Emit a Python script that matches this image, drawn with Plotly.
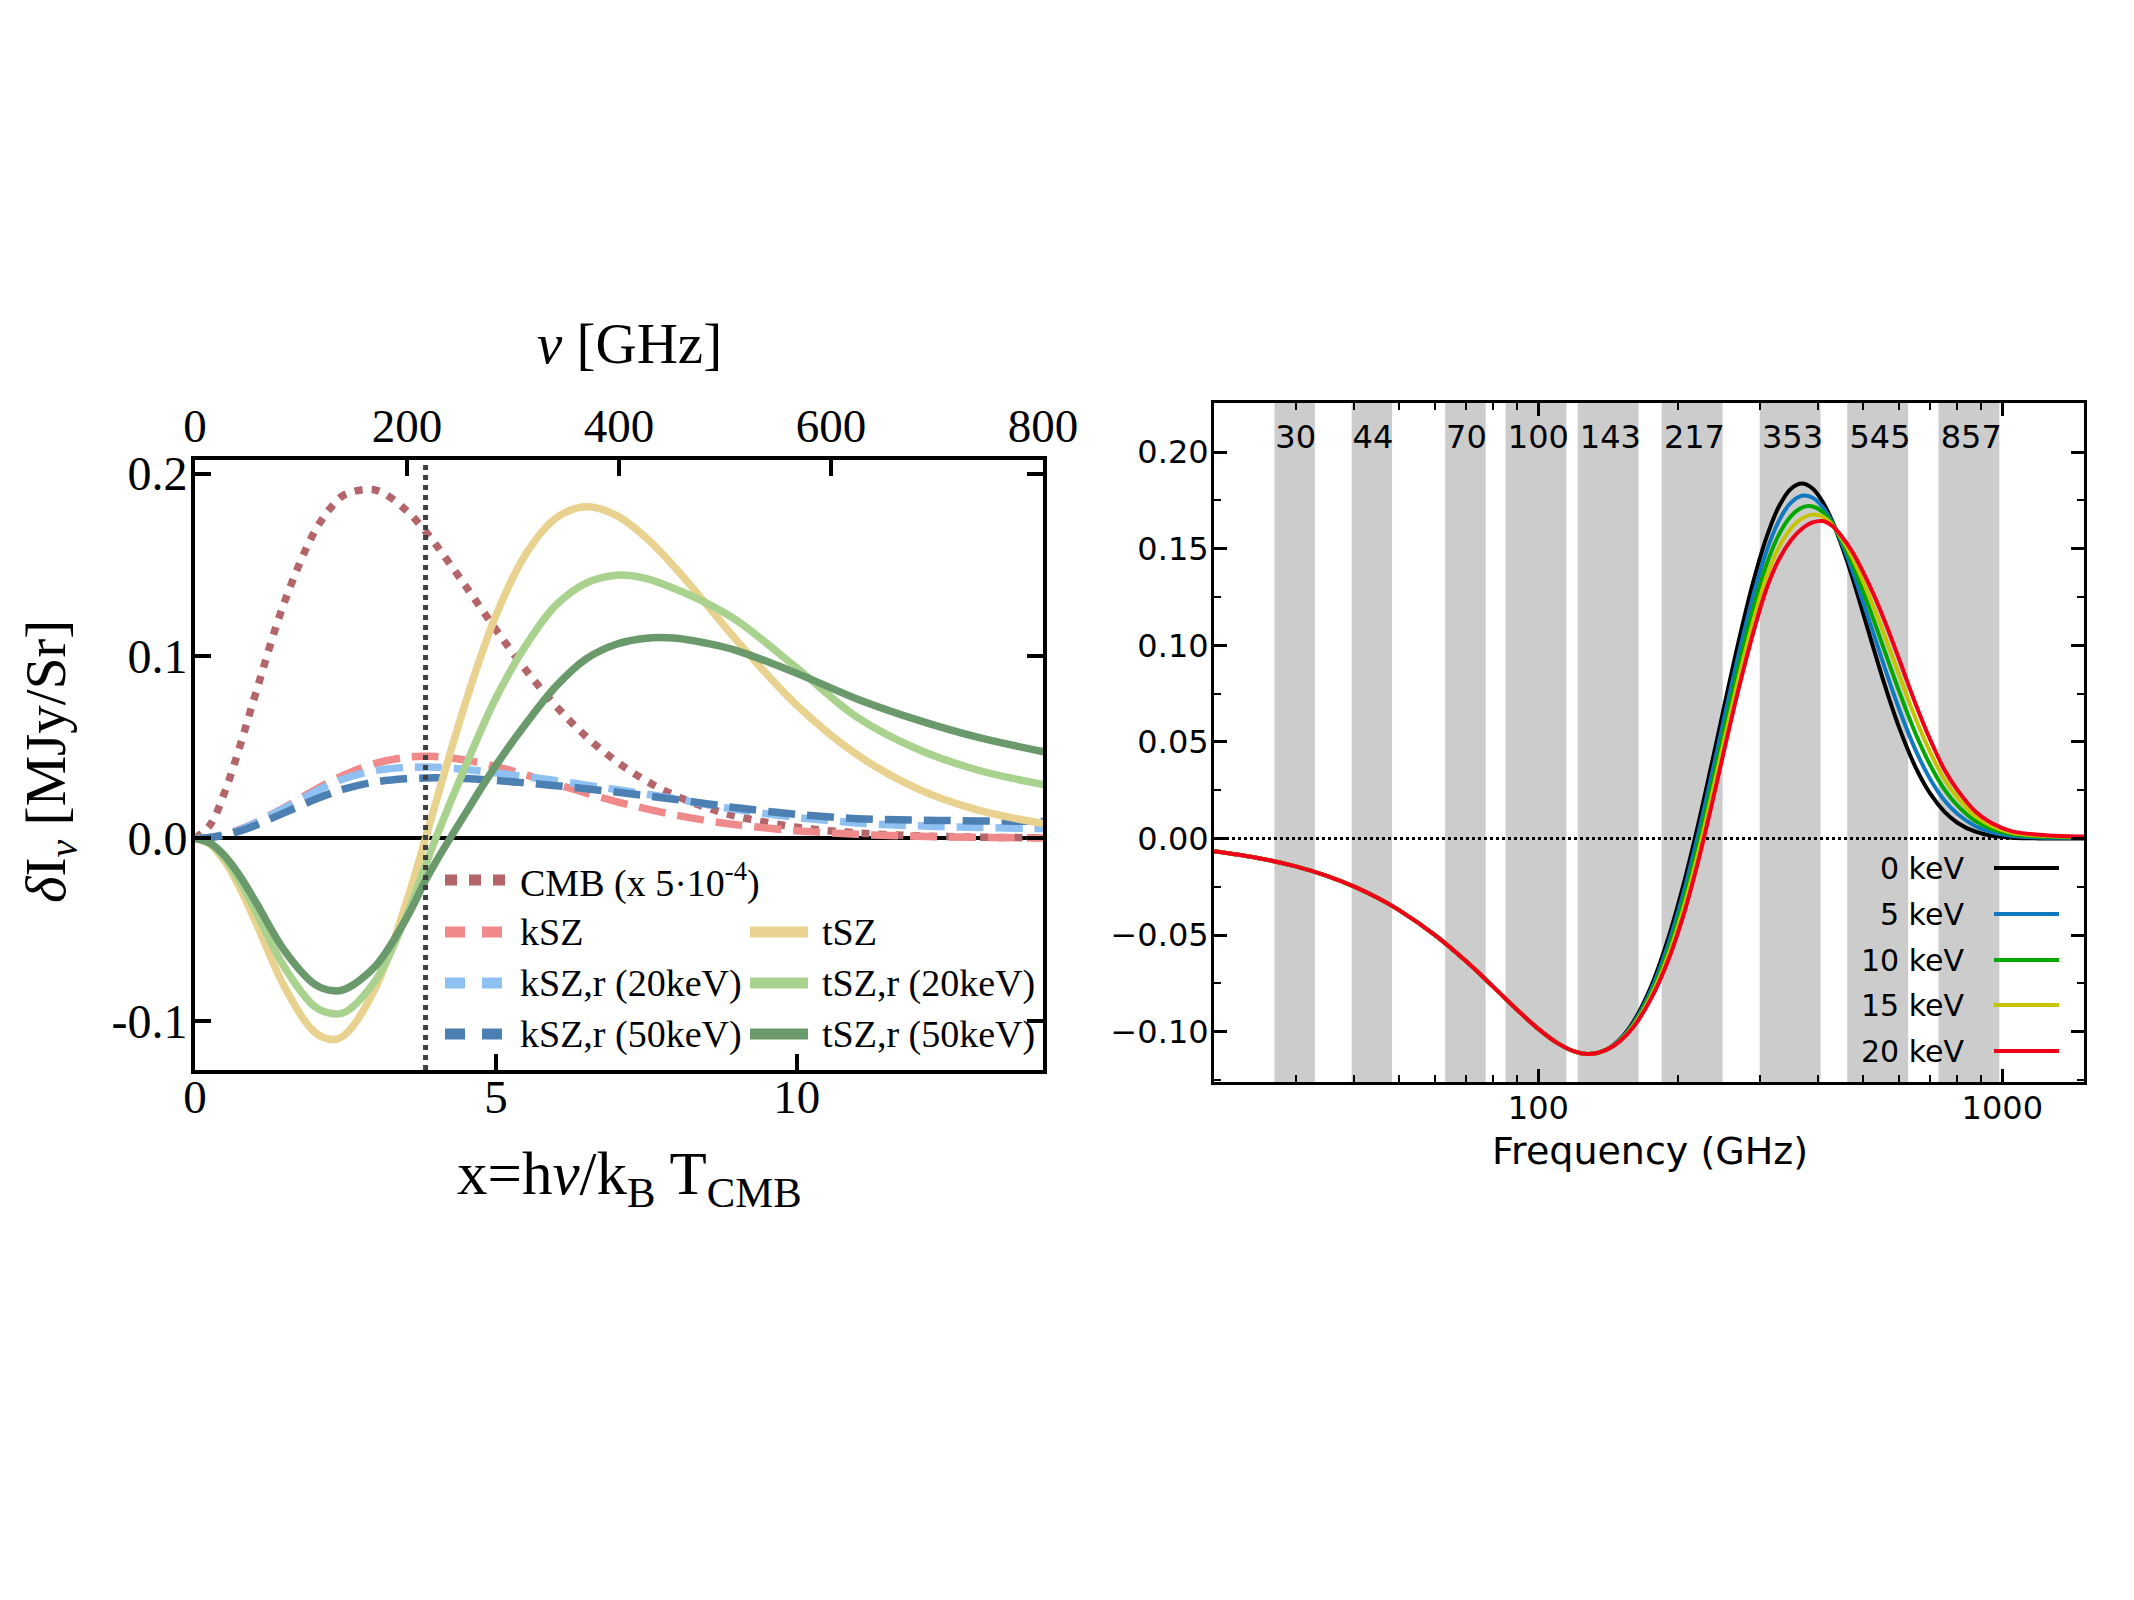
import plotly.graph_objects as go

W, H = 2134, 1600

# ---------------- left panel data ----------------
x_left = [0, 0.25, 0.5, 0.75, 1.0, 1.5, 2.0, 2.3, 2.5, 3.0, 3.5, 3.83, 4.0, 4.5, 5.0,
          5.5, 6.0, 6.5, 7.0, 7.5, 8.0, 8.5, 9.0, 10.0, 11.0, 12.0, 13.0, 14.1]
cmb_scaled = [0, 0.0074, 0.0260, 0.0510, 0.0786, 0.1309, 0.1690, 0.1830, 0.1887, 0.1910,
              0.1802, 0.1683, 0.1612, 0.1382, 0.1145, 0.0922, 0.0725, 0.0558, 0.0423,
              0.0315, 0.0232, 0.0169, 0.0121, 0.0061, 0.0030, 0.0014, 0.0007, 0.0003]
ksz = [0, 0.00057, 0.00226, 0.00495, 0.00849, 0.01726, 0.0267, 0.03195, 0.0351, 0.0412,
       0.0444, 0.0450, 0.0449, 0.0429, 0.0394, 0.0348, 0.0298, 0.0248, 0.0202, 0.0162,
       0.0127, 0.0098, 0.0075, 0.0042, 0.00225, 0.00117, 0.0006, 0.00027]
ksz_r20 = [0, 0.00056, 0.0022, 0.0048, 0.0083, 0.0168, 0.0257, 0.0303, 0.0330, 0.0372,
           0.0389, 0.0391, 0.0390, 0.0378, 0.0359, 0.0338, 0.0317, 0.0292, 0.0268, 0.0243,
           0.0216, 0.0186, 0.0158, 0.0115, 0.0085, 0.0069, 0.0060, 0.0054]
ksz_r50 = [0, 0.00048, 0.0019, 0.0041, 0.0071, 0.0143, 0.0215, 0.0252, 0.0273, 0.0310,
           0.0327, 0.0331, 0.0332, 0.0328, 0.0318, 0.0304, 0.0289, 0.0272, 0.0254, 0.0234,
           0.0213, 0.0190, 0.0168, 0.0132, 0.0108, 0.0100, 0.0096, 0.0093]
tsz = [0, -0.00331, -0.01286, -0.02744, -0.0453, -0.0822, -0.1066, -0.1103, -0.1074,
       -0.0820, -0.0364, 0.0, 0.0195, 0.0750, 0.1222, 0.1561, 0.1757, 0.1818, 0.1771,
       0.1647, 0.1476, 0.1282, 0.1086, 0.0730, 0.0459, 0.0273, 0.0156, 0.0081]
tsz_r20 = [0, -0.0029, -0.0112, -0.0239, -0.0394, -0.0714, -0.0925, -0.0962, -0.0952,
           -0.0779, -0.0434, -0.0148, 0.0, 0.040, 0.077, 0.106, 0.128, 0.140, 0.1443,
           0.1425, 0.1365, 0.1290, 0.1195, 0.0935, 0.0665, 0.0490, 0.0375, 0.0295]
tsz_r50 = [0, -0.0025, -0.0098, -0.0208, -0.0343, -0.0621, -0.0802, -0.0836, -0.0826,
           -0.0700, -0.0445, -0.0230, -0.0130, 0.0140, 0.0400, 0.0630, 0.0835, 0.0985,
           0.1065, 0.1098, 0.1097, 0.1070, 0.1030, 0.0905, 0.0765, 0.0650, 0.0555, 0.0475]
nu_null_GHz = 217.5

left_x_range = [0, 14.09]
left_nu_range = [0, 800]
left_y_range = [-0.127, 0.2075]
left_yticks = [-0.1, 0.0, 0.1, 0.2]
left_yticktext = ["-0.1", "0.0", "0.1", "0.2"]
left_xticks = [0, 5, 10]
left_nuticks = [0, 200, 400, 600, 800]

# ---------------- right panel data ----------------
nu_low = [20, 25, 30, 35, 40, 45, 50, 60, 70, 80, 90, 100, 110, 120, 128, 140]
dI_low = [-0.00658, -0.01017, -0.01444, -0.01932, -0.02475, -0.03064, -0.03689, -0.05011,
          -0.06369, -0.07676, -0.08862, -0.09849, -0.10587, -0.11032, -0.11156, -0.10938]
nu_high = [150, 160, 175, 190, 205, 220, 235, 250, 270, 290, 310, 330, 350, 370, 390, 410,
           430, 450, 475, 500, 530, 560, 600, 650, 700, 750, 800, 875, 950, 1050, 1200,
           1350, 1500]
dI_0keV = [-0.10386, -0.09513, -0.07656, -0.05262, -0.02484, 0.00514, 0.03571, 0.06541,
           0.10165, 0.13209, 0.15561, 0.17183, 0.18095, 0.18373, 0.18113, 0.17430, 0.16427,
           0.15199, 0.13534, 0.11743, 0.09699, 0.07830, 0.05713, 0.03699, 0.02306, 0.01393,
           0.00819, 0.00354, 0.00147, 0.00042, 0.00006, 0.00001, 0.0]
dI_5keV = [-0.10413, -0.09586, -0.07826, -0.05564, -0.02909, 0.00001, 0.03004, 0.05936,
           0.09502, 0.12499, 0.14843, 0.16442, 0.17373, 0.17740, 0.17640, 0.17160, 0.16360,
           0.15323, 0.13887, 0.12309, 0.10469, 0.08726, 0.06668, 0.04585, 0.03058, 0.01981,
           0.01278, 0.00636, 0.00321, 0.00131, 0.00058, 0.00036, 0.00027]
dI_10keV = [-0.10438, -0.09657, -0.07990, -0.05854, -0.03318, -0.00492, 0.02459, 0.05353,
            0.08864, 0.11816, 0.14151, 0.15729, 0.16677, 0.17131, 0.17184, 0.16900, 0.16296,
            0.15443, 0.14226, 0.12854, 0.11210, 0.09590, 0.07588, 0.05438, 0.03782, 0.02547,
            0.01721, 0.00908, 0.00488, 0.00216, 0.00109, 0.00070, 0.00053]
dI_15keV = [-0.10462, -0.09722, -0.08142, -0.06122, -0.03696, -0.00948, 0.01955, 0.04815,
            0.08275, 0.11185, 0.13512, 0.15071, 0.16035, 0.16569, 0.16763, 0.16660, 0.16237,
            0.15554, 0.14540, 0.13358, 0.11894, 0.10386, 0.08436, 0.06225, 0.04450, 0.03069,
            0.02129, 0.01159, 0.00642, 0.00295, 0.00155, 0.00100, 0.00077]
dI_20keV = [-0.10485, -0.09784, -0.08287, -0.06379, -0.04058, -0.01385, 0.01472, 0.0430,
            0.0771, 0.1058, 0.1290, 0.1444, 0.1542, 0.1603, 0.1636, 0.1643, 0.1618, 0.1566,
            0.1484, 0.1384, 0.1255, 0.1115, 0.0925, 0.0698, 0.0509, 0.0357, 0.0252, 0.0140,
            0.0079, 0.0037, 0.0020, 0.0013, 0.0010]
temp_labels = ["0 keV", "5 keV", "10 keV", "15 keV", "20 keV"]
temp_colors = ["#000000", "#1079c0", "#00a800", "#c4c400", "#f0001a"]

band_centers = [30, 44, 70, 100, 143, 217, 353, 545, 857]
band_lo = [27.0, 39.6, 63.0, 85.0, 121.55, 184.45, 300.05, 463.25, 728.45]
band_hi = [33.0, 48.4, 77.0, 115.0, 164.45, 249.55, 405.95, 626.75, 985.55]
band_label_y = 0.2063

right_x_range = [1.30103, 3.17609]   # log10(20), log10(1500)
right_y_range = [-0.126, 0.2254]
right_yticks = [-0.10, -0.05, 0.0, 0.05, 0.10, 0.15, 0.20]
right_yticktext = ["\u22120.10", "\u22120.05", "0.00", "0.05", "0.10", "0.15", "0.20"]
right_xminor = [20, 30, 40, 50, 60, 70, 80, 90, 200, 300, 400, 500, 600, 700, 800, 900]

# ---------------- styles ----------------
SERIF = "Liberation Serif, Times New Roman, serif"
SANS = "DejaVu Sans, sans-serif"
left_series = [
    ("CMB (x 5\u00b710<sup>-4</sup>)", cmb_scaled, "#b4656a", "8px,9px", "12px,12px", 0),
    ("kSZ", ksz, "#f0898a", "27px,12px", "20px,17px", 1),
    ("kSZ,r (20keV)", ksz_r20, "#8fc0f2", "27px,12px", "20px,17px", 2),
    ("kSZ,r (50keV)", ksz_r50, "#4c80b3", "27px,12px", "20px,17px", 3),
    ("tSZ", tsz, "#e9d28f", "solid", "solid", 1),
    ("tSZ,r (20keV)", tsz_r20, "#a9d28f", "solid", "solid", 2),
    ("tSZ,r (50keV)", tsz_r50, "#6a9a6c", "solid", "solid", 3),
]

fig = go.Figure()

for name, ys, col, dash, _, _ in left_series:
    fig.add_trace(go.Scatter(x=x_left, y=ys, mode="lines", name=name,
                             line=dict(color=col, width=7.5, dash=dash, shape="spline"),
                             xaxis="x", yaxis="y", showlegend=False, hoverinfo="skip"))

# vertical dotted line at the tSZ null, on the top (GHz) axis
fig.add_trace(go.Scatter(x=[nu_null_GHz, nu_null_GHz], y=left_y_range, mode="lines",
                         line=dict(color="#404040", width=5, dash="5px,5px"),
                         xaxis="x3", yaxis="y", showlegend=False, hoverinfo="skip"))

# right panel curves
right_curves = [dI_0keV, dI_5keV, dI_10keV, dI_15keV, dI_20keV]
for lab, col, hi in zip(temp_labels, temp_colors, right_curves):
    fig.add_trace(go.Scatter(x=nu_low + nu_high, y=dI_low + hi, mode="lines", name=lab,
                             line=dict(color=col, width=4, shape="spline"),
                             xaxis="x2", yaxis="y2", showlegend=False, hoverinfo="skip"))

# band labels
fig.add_trace(go.Scatter(x=band_centers, y=[band_label_y] * len(band_centers), mode="text",
                         text=[str(c) for c in band_centers],
                         textfont=dict(family=SANS, size=32, color="black"),
                         xaxis="x2", yaxis="y2", showlegend=False, hoverinfo="skip"))

shapes = []
# Planck bands
for lo, hi in zip(band_lo, band_hi):
    shapes.append(dict(type="rect", xref="x2", yref="y2 domain", x0=lo, x1=hi, y0=0, y1=1,
                       fillcolor="#cccccc", line=dict(width=0), layer="below"))
# dotted zero line in right panel
shapes.append(dict(type="line", xref="x2 domain", yref="y2", x0=0, x1=1, y0=0, y1=0,
                   line=dict(color="black", width=3, dash="3px,3px"), layer="below"))

annotations = []

def px(xp):
    return xp / W

def py(yp):
    return 1 - yp / H

# left legend (two columns)
col_x = [(445, 505, 518), (750, 808, 820)]
row_y = [880, 932, 983, 1034]
for i, (name, ys, col, dash, ldash, row) in enumerate(left_series):
    c = 0 if i < 4 else 1
    x0, x1, xt = col_x[c]
    yy = py(row_y[row])
    shapes.append(dict(type="line", xref="paper", yref="paper", x0=px(x0), x1=px(x1),
                       y0=yy, y1=yy, line=dict(color=col, width=11, dash=ldash)))
    annotations.append(dict(xref="paper", yref="paper", x=px(xt), y=yy, text=name,
                            showarrow=False, xanchor="left", yanchor="middle",
                            font=dict(family=SERIF, size=38, color="black")))

# right legend (text first, then line)
rrow_y = [868, 914, 960, 1005, 1051]
for lab, col, ry in zip(temp_labels, temp_colors, rrow_y):
    shapes.append(dict(type="line", xref="paper", yref="paper", x0=px(1994), x1=px(2059),
                       y0=py(ry), y1=py(ry), line=dict(color=col, width=4)))
    annotations.append(dict(xref="paper", yref="paper", x=px(1966), y=py(ry), text=lab,
                            showarrow=False, xanchor="right", yanchor="middle",
                            font=dict(family=SANS, size=30, color="black")))

# axis titles
annotations += [
    dict(xref="paper", yref="paper", x=px(629), y=py(343), text="<i>\u03bd</i> [GHz]",
         xanchor="center", yanchor="middle",
         showarrow=False, font=dict(family=SERIF, size=57, color="black")),
    dict(xref="paper", yref="paper", x=px(629), y=py(1178),
         text="x=h<i>\u03bd</i>/k<sub>B</sub> T<sub>CMB</sub>",
         xanchor="center", yanchor="middle",
         showarrow=False, font=dict(family=SERIF, size=61, color="black")),
    dict(xref="paper", yref="paper", x=px(50), y=py(762), textangle=-90,
         text="<i>\u03b4</i>I<sub><i>\u03bd</i></sub> [MJy/Sr]",
         xanchor="center", yanchor="middle",
         showarrow=False, font=dict(family=SERIF, size=57, color="black")),
    dict(xref="paper", yref="paper", x=px(1650), y=py(1151), text="Frequency (GHz)",
         xanchor="center", yanchor="middle",
         showarrow=False, font=dict(family=SANS, size=38, color="black")),
]

left_dom_x = [195 / W, 1043 / W]
left_dom_y = [1 - 1070 / H, 1 - 460 / H]
right_dom_x = [1214 / W, 2084 / W]
right_dom_y = [1 - 1082 / H, 1 - 403 / H]

fig.update_layout(
    width=W, height=H, margin=dict(l=0, r=0, t=0, b=0, autoexpand=False),
    paper_bgcolor="white", plot_bgcolor="white", showlegend=False,
    shapes=shapes, annotations=annotations,
    xaxis=dict(domain=left_dom_x, anchor="y", range=left_x_range, tickvals=left_xticks,
               ticks="inside", ticklen=16, tickwidth=4, tickcolor="black",
               showline=True, linewidth=4, linecolor="black", mirror=True,
               showgrid=False, zeroline=False, ticklabelstandoff=-17, automargin=False,
               tickfont=dict(family=SERIF, size=47, color="black")),
    xaxis3=dict(overlaying="x", anchor="y", side="top", range=left_nu_range,
                tickvals=left_nuticks, ticks="inside", ticklen=16, tickwidth=4,
                tickcolor="black", showline=False, showgrid=False, zeroline=False,
                ticklabelstandoff=8, automargin=False,
                tickfont=dict(family=SERIF, size=47, color="black")),
    yaxis=dict(domain=left_dom_y, anchor="x", range=left_y_range, tickvals=left_yticks,
               ticktext=left_yticktext, ticks="inside", ticklen=16, tickwidth=4,
               tickcolor="black", showline=True, linewidth=4, linecolor="black",
               mirror="ticks", showgrid=False, zeroline=True, zerolinecolor="black",
               zerolinewidth=4, ticklabelstandoff=-6, automargin=False,
               tickfont=dict(family=SERIF, size=48, color="black")),
    xaxis2=dict(domain=right_dom_x, anchor="y2", type="log", range=right_x_range,
                tickvals=[100, 1000], ticktext=["100", "1000"], ticks="inside",
                ticklen=13, tickwidth=2.5, tickcolor="black", showline=True,
                linewidth=3, linecolor="black", mirror="ticks", showgrid=False,
                zeroline=False, ticklabelstandoff=-4, automargin=False,
                minor=dict(tickvals=right_xminor, ticks="inside", ticklen=7,
                           tickwidth=2, tickcolor="black", showgrid=False),
                tickfont=dict(family=SANS, size=32, color="black")),
    yaxis2=dict(domain=right_dom_y, anchor="x2", range=right_y_range,
                tickvals=right_yticks, ticktext=right_yticktext, ticks="inside",
                ticklen=13, tickwidth=2.5, tickcolor="black", showline=True,
                linewidth=3, linecolor="black", mirror="ticks", showgrid=False,
                zeroline=False, ticklabelstandoff=-4, automargin=False,
                minor=dict(dtick=0.025, ticks="inside", ticklen=7, tickwidth=2,
                           tickcolor="black", showgrid=False),
                tickfont=dict(family=SANS, size=32, color="black")),
)

fig.write_html("out.html")
